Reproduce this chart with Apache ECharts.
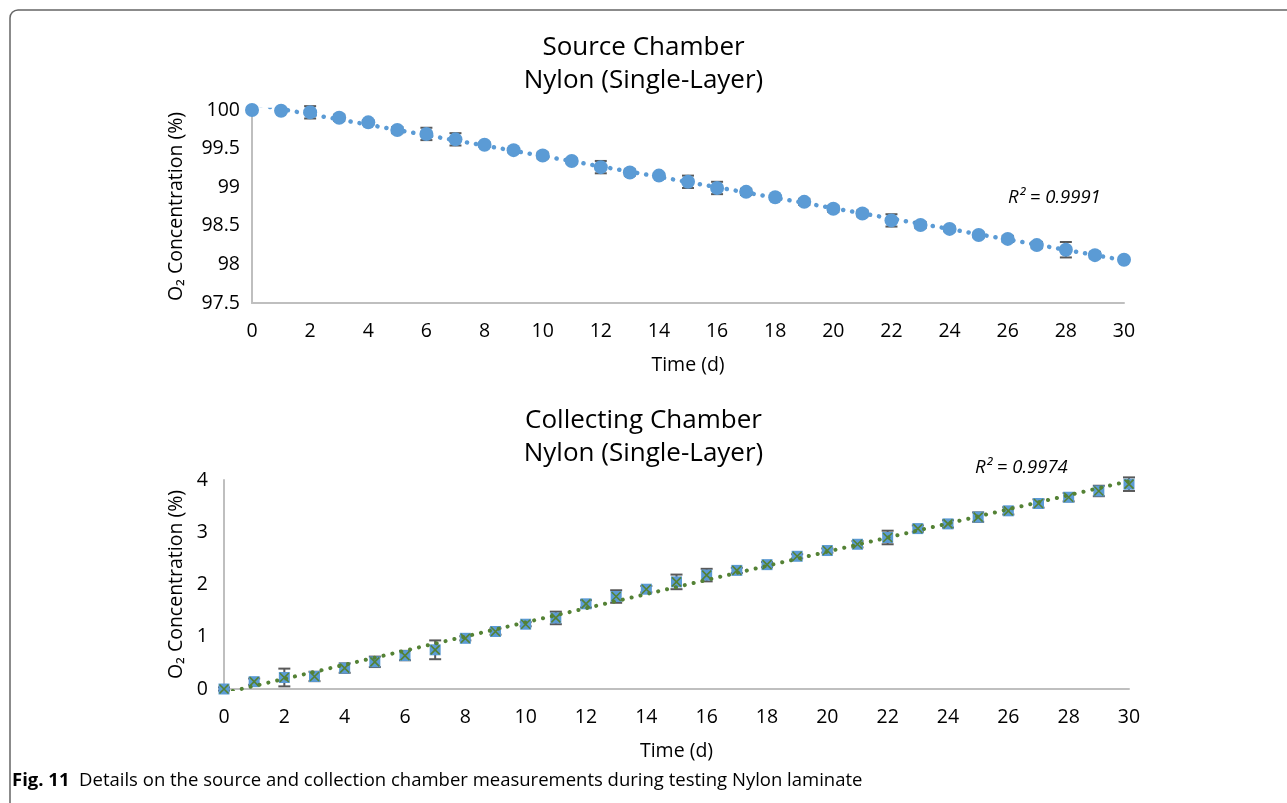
<!DOCTYPE html>
<html>
<head>
<meta charset="utf-8">
<script src="https://cdn.jsdelivr.net/npm/echarts@6/dist/echarts.min.js"></script>
<style>
  html, body { margin: 0; padding: 0; background: #fff; }
  #main { width: 1287px; height: 803px; }
</style>
</head>
<body>
<div id="main"></div>
<script>
// days (x values), shared by both panels
var days = [0,1,2,3,4,5,6,7,8,9,10,11,12,13,14,15,16,17,18,19,20,21,22,23,24,25,26,27,28,29,30];

// source chamber O2 (%)
var sourceO2 = [100.0,99.99,99.97,99.90,99.84,99.74,99.69,99.62,99.55,99.48,99.41,99.34,99.26,99.19,99.15,99.07,98.99,98.94,98.87,98.81,98.72,98.66,98.57,98.51,98.46,98.38,98.33,98.25,98.19,98.12,98.06];
var sourceErr = [0.03,0.03,0.08,0.04,0.03,0.04,0.08,0.08,0.03,0.03,0.04,0.03,0.08,0.04,0.03,0.08,0.08,0.04,0.03,0.04,0.04,0.04,0.08,0.04,0.03,0.03,0.04,0.04,0.10,0.04,0.03];

// collecting chamber O2 (%)
var collectO2 = [0.0,0.14,0.22,0.24,0.40,0.52,0.64,0.75,0.97,1.10,1.24,1.36,1.63,1.77,1.91,2.05,2.18,2.27,2.38,2.54,2.65,2.77,2.90,3.07,3.16,3.29,3.41,3.55,3.67,3.79,3.92];
var collectErr = [0.03,0.06,0.17,0.09,0.09,0.10,0.09,0.18,0.04,0.06,0.04,0.12,0.07,0.12,0.06,0.14,0.12,0.05,0.05,0.04,0.04,0.06,0.13,0.06,0.07,0.09,0.07,0.08,0.08,0.10,0.13];

var xTicks = { min: 0, max: 30, interval: 2 };
var sourceTicks = { min: 97.5, max: 100, interval: 0.5 };
var collectTicks = { min: 0, max: 4, interval: 1 };

var FONT = 'Open Sans';
var BLUE = '#5B9BD5';
var GREEN = '#548235';
var BAR = '#595959';

function fit(xs, ys) {
  var n = xs.length, sx = 0, sy = 0, sxx = 0, sxy = 0;
  for (var i = 0; i < n; i++) { sx += xs[i]; sy += ys[i]; sxx += xs[i]*xs[i]; sxy += xs[i]*ys[i]; }
  var b = (n*sxy - sx*sy) / (n*sxx - sx*sx);
  var a = (sy - b*sx) / n;
  return [[xs[0], a + b*xs[0]], [xs[n-1], a + b*xs[n-1]]];
}

function pairs(ys) { return days.map(function (d, i) { return [d, ys[i]]; }); }
function errData(ys, es) { return days.map(function (d, i) { return [d, ys[i], es[i]]; }); }

function errorBars(params, api) {
  var x = api.value(0), y = api.value(1), e = api.value(2);
  var hi = api.coord([x, y + e]), lo = api.coord([x, y - e]);
  var w = 6;
  var st = { stroke: BAR, lineWidth: 2 };
  return {
    type: 'group',
    children: [
      { type: 'line', shape: { x1: hi[0], y1: hi[1], x2: lo[0], y2: lo[1] }, style: st },
      { type: 'line', shape: { x1: hi[0]-w, y1: hi[1], x2: hi[0]+w, y2: hi[1] }, style: st },
      { type: 'line', shape: { x1: lo[0]-w, y1: lo[1], x2: lo[0]+w, y2: lo[1] }, style: st }
    ]
  };
}

function xAxis(idx) {
  return {
    type: 'value', gridIndex: idx, min: xTicks.min, max: xTicks.max, interval: xTicks.interval,
    name: 'Time (d)', nameLocation: 'middle', nameGap: 52,
    nameTextStyle: { fontFamily: FONT, fontSize: 19.5, color: '#000' },
    axisLine: { show: true, onZero: false, lineStyle: { color: '#BFBFBF', width: 2 } },
    axisTick: { show: false }, splitLine: { show: false },
    axisLabel: { fontFamily: FONT, fontSize: 19.5, color: '#000', margin: 18 }
  };
}

function yAxis(idx, t, gap, margin) {
  return {
    type: 'value', gridIndex: idx, min: t.min, max: t.max, interval: t.interval,
    name: 'O₂ Concentration (%)', nameLocation: 'middle', nameGap: gap,
    nameTextStyle: { fontFamily: FONT, fontSize: 19.5, color: '#000' },
    axisLine: { show: true, lineStyle: { color: '#BFBFBF', width: 2 } },
    axisTick: { show: false }, splitLine: { show: false },
    axisLabel: { fontFamily: FONT, fontSize: 19.5, color: '#000', margin: margin }
  };
}

var dotted = { type: [0.1, 9], cap: 'round', width: 4.5 };

var chart = echarts.init(document.getElementById('main'));
chart.setOption({
  animation: false,
  backgroundColor: '#fff',
  title: [
    { text: 'Source Chamber\nNylon (Single-Layer)', left: 'center', top: 26,
      textStyle: { fontFamily: FONT, fontSize: 26, fontWeight: 'normal', color: '#000', lineHeight: 33 } },
    { text: 'Collecting Chamber\nNylon (Single-Layer)', left: 'center', top: 399,
      textStyle: { fontFamily: FONT, fontSize: 26, fontWeight: 'normal', color: '#000', lineHeight: 33 } }
  ],
  grid: [
    { left: 252, top: 110, width: 872, height: 193 },
    { left: 224, top: 480, width: 905, height: 209 }
  ],
  xAxis: [xAxis(0), xAxis(1)],
  yAxis: [yAxis(0, sourceTicks, 66, 12), yAxis(1, collectTicks, 38, 16)],
  series: [
    { type: 'line', xAxisIndex: 0, yAxisIndex: 0, data: fit(days, sourceO2), showSymbol: false,
      lineStyle: Object.assign({ color: BLUE }, dotted), z: 1 },
    { type: 'custom', xAxisIndex: 0, yAxisIndex: 0, data: errData(sourceO2, sourceErr), renderItem: errorBars, z: 2 },
    { type: 'scatter', xAxisIndex: 0, yAxisIndex: 0, data: pairs(sourceO2), symbol: 'circle', symbolSize: 14,
      itemStyle: { color: BLUE, opacity: 1 }, z: 3 },

    { type: 'custom', xAxisIndex: 1, yAxisIndex: 1, data: errData(collectO2, collectErr), renderItem: errorBars, z: 2 },
    { type: 'scatter', xAxisIndex: 1, yAxisIndex: 1, data: pairs(collectO2), symbol: 'rect', symbolSize: 11,
      itemStyle: { color: BLUE, opacity: 1 }, z: 3 },
    { type: 'scatter', xAxisIndex: 1, yAxisIndex: 1, data: pairs(collectO2), symbol: 'path://M0,0L10,10M10,0L0,10', symbolSize: 9,
      itemStyle: { color: 'none', borderColor: GREEN, borderWidth: 1.6, opacity: 1 }, z: 4 },
    { type: 'line', xAxisIndex: 1, yAxisIndex: 1, data: fit(days, collectO2), showSymbol: false,
      lineStyle: Object.assign({ color: GREEN }, dotted, { width: 4 }), z: 5 }
  ],
  graphic: [
    { type: 'rect', shape: { x: 10, y: 10, width: 1300, height: 820, r: 8 },
      style: { fill: 'none', stroke: '#666', lineWidth: 1.5 }, silent: true, z: -1 },
    { type: 'text', left: 1008, top: 188,
      style: { text: 'R² = 0.9991', fontFamily: FONT, fontSize: 18.5, fontStyle: 'italic', fill: '#000' } },
    { type: 'text', left: 975, top: 458,
      style: { text: 'R² = 0.9974', fontFamily: FONT, fontSize: 18.5, fontStyle: 'italic', fill: '#000' } },
    { type: 'text', left: 12, top: 771,
      style: {
        text: '{b|Fig. 11}  Details on the source and collection chamber measurements during testing Nylon laminate',
        fontFamily: FONT, fontSize: 18.5, fill: '#000',
        rich: { b: { fontFamily: FONT, fontSize: 18.5, fontWeight: 'bold', fill: '#000' } }
      } }
  ]
});
window.onresize = chart.resize;
</script>
</body>
</html>
